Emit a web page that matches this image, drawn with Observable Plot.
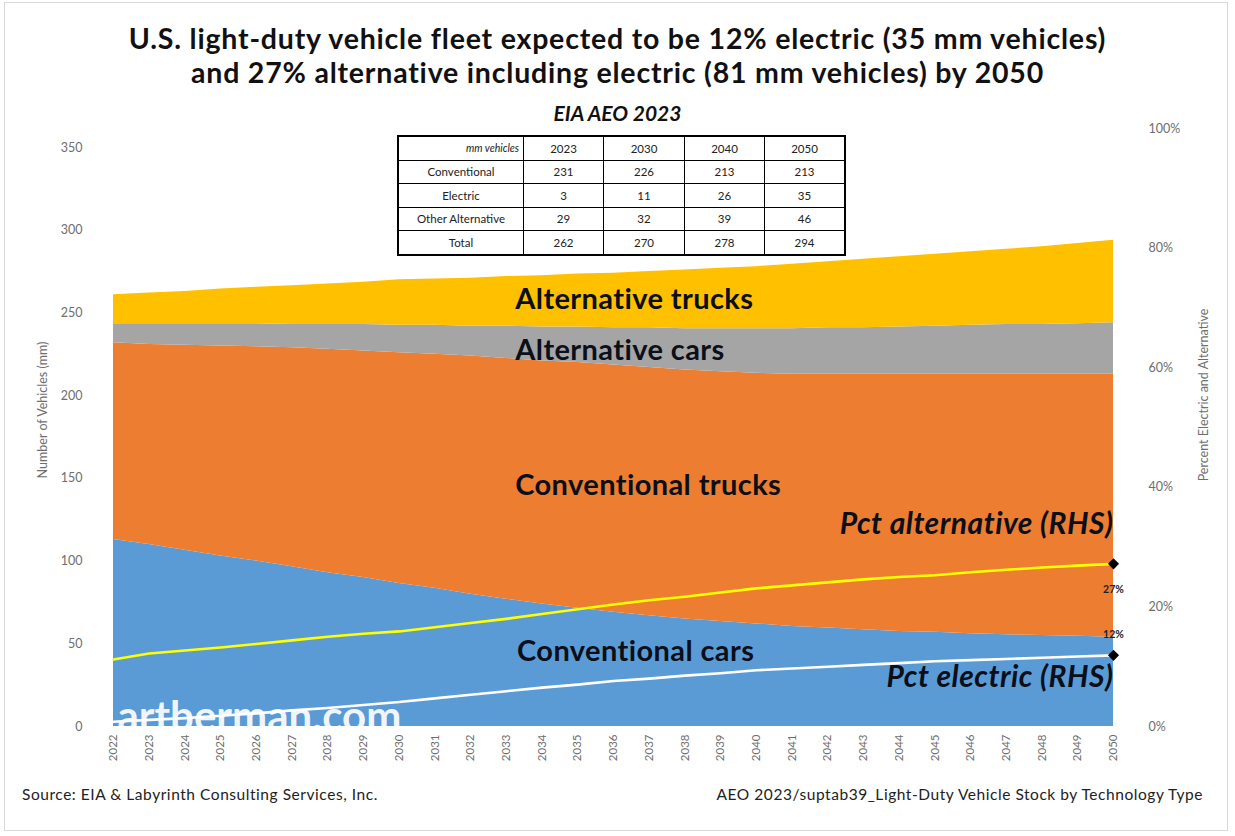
<!DOCTYPE html>
<html><head><meta charset="utf-8">
<script src="https://cdn.jsdelivr.net/npm/d3@7"></script>
<script src="https://cdn.jsdelivr.net/npm/@observablehq/plot@0.6"></script>
<style>
body{margin:0;background:#fff;}
#wrap{position:relative;width:1235px;height:836px;overflow:hidden;font-family:Lato,"Open Sans",sans-serif;background:#fff;}
#frame{position:absolute;left:4px;top:2px;width:1224px;height:829px;border:1px solid #d9d9d9;box-sizing:border-box;pointer-events:none;}
.t{position:absolute;white-space:nowrap;}
#title{left:0;width:1235px;top:21px;text-align:center;font-weight:700;font-size:28.5px;letter-spacing:0.8px;line-height:34px;color:#111;}
#sub{left:0;width:1235px;top:100px;text-align:center;font-weight:700;font-style:italic;font-size:21px;color:#111;}
#tbl{position:absolute;left:397px;top:135px;border-collapse:collapse;border:2.5px solid #000;font-size:11.5px;color:#222;background:#fff;}
#tbl td{border:1px solid #000;height:22.5px;padding:0 4px;text-align:center;}
.rot{transform:translate(-50%,-50%) rotate(-90deg);font-size:12.5px;color:#6e6e6e;}
.src{font-size:15.5px;letter-spacing:0.55px;color:#222;top:785px;}
svg{position:absolute;left:0;top:0;}
</style></head><body><div id="wrap"><div id="frame"></div></div>
<script>
const years = [2022,2023,2024,2025,2026,2027,2028,2029,2030,2031,2032,2033,2034,2035,2036,2037,2038,2039,2040,2041,2042,2043,2044,2045,2046,2047,2048,2049,2050];
const conventionalCars   = [113,110,106.5,103,100,96.5,93,90,86.5,83.5,80,77,74,71.5,69,67,65,63.5,62,60.5,59.5,58.5,57.5,57,56,55.5,55,54.5,54];
const conventionalTrucks = [119,121,124,127,129.5,132.5,135,137,139.5,141.5,144,145.5,147,148.5,149.5,150,150.5,151,151.5,152.5,153.5,154.5,155.5,156,157,157.5,158,158.5,159];
const alternativeCars    = [11.5,12.5,13,13.5,14,14,15,16,16.5,17.5,18,19.5,20.5,21.5,22.5,24,25,26,27,27.5,28,28,28.5,29,29.5,30,30,30.5,31];
const alternativeTrucks  = [17.5,18.5,19.5,21,22,23.5,24.5,25.5,27.5,28,29,30,31,32,33,34,35.5,36.5,37.5,39,40,41.5,42.5,43.5,44.5,45.5,47,48.5,50];
const pctElectric    = [0.8,1.1,1.4,1.8,2.2,2.7,3.1,3.6,4.1,4.7,5.3,5.9,6.5,7.0,7.6,8.0,8.5,8.9,9.4,9.7,10.0,10.3,10.6,10.9,11.1,11.3,11.5,11.7,11.9];
const pctAlternative = [11.2,12.2,12.7,13.2,13.8,14.4,15.0,15.5,15.9,16.6,17.3,18.0,18.8,19.6,20.4,21.1,21.7,22.4,23.1,23.6,24.1,24.6,25.0,25.3,25.8,26.2,26.6,26.9,27.2];

const seriesNames  = ["Conventional cars","Conventional trucks","Alternative cars","Alternative trucks"];
const seriesColors = ["#5B9BD5","#ED7D31","#A5A5A5","#FFC000"];
const leftTicks  = [0,50,100,150,200,250,300,350];
const rightTicks = [0,20,40,60,80,100];

const tableHeader = ["mm vehicles","2023","2030","2040","2050"];
const tableLabels = ["Conventional","Electric","Other Alternative","Total"];
const tableConventional = [231,226,213,213];
const tableElectric     = [3,11,26,35];
const tableOther        = [29,32,39,46];
const tableTotal        = [262,270,278,294];

const areaLabels = ["Alternative trucks","Alternative cars","Conventional trucks","Conventional cars"];
const areaLabelYear  = [2033.25,2033.25,2033.25,2033.3];
const areaLabelValue = [258,227.3,145.7,45.3];
const pctLabels = ["Pct alternative (RHS)","Pct electric (RHS)"];
const pctLabelValue = [122,29.6];
const endLabels = ["27%","12%"];
const endLabelValue = [82.8,55.6];

const Y_TOP = 361.5; // left-axis units that correspond to 100% on the right axis
const k = Y_TOP/100;

const stackData = [];
const seriesValues = [conventionalCars, conventionalTrucks, alternativeCars, alternativeTrucks];
seriesNames.forEach((s,i)=>years.forEach((y,j)=>stackData.push({series:s, year:y, value:seriesValues[i][j]})));
const pctData = years.map((y,j)=>({year:y, elec:pctElectric[j], alt:pctAlternative[j]}));
const last = pctData[pctData.length-1];
const ends = [{year:last.year, v:last.alt*k},{year:last.year, v:last.elec*k}];

const areaAnn = areaLabels.map((l,i)=>({label:l, year:areaLabelYear[i], value:areaLabelValue[i]}));
const pctAnn = pctLabels.map((l,i)=>({label:l, year:2050, value:pctLabelValue[i]}));
const endAnn = endLabels.map((l,i)=>({label:l, year:2050, value:endLabelValue[i]}));

const chart = Plot.plot({
  width:1235, height:836,
  marginTop:128, marginBottom:110, marginLeft:113, marginRight:122,
  x:{type:"linear", domain:[2022,2050]},
  y:{domain:[0,Y_TOP]},
  color:{domain:seriesNames, range:seriesColors},
  style:{fontFamily:"Lato, 'Open Sans', sans-serif", background:"transparent", overflow:"visible"},
  marks:[
    Plot.areaY(stackData,{x:"year", y:"value", z:"series", fill:"series", order:seriesNames}),
    Plot.line(pctData,{x:"year", y:d=>d.alt*k, stroke:"#FFFF00", strokeWidth:2.6}),
    Plot.line(pctData,{x:"year", y:d=>d.elec*k, stroke:"#FFFFFF", strokeWidth:2.6}),
    Plot.dot(ends,{x:"year", y:"v", symbol:"diamond2", r:5, fill:"#000"}),
    Plot.text(areaAnn,{x:"year", y:"value", text:"label", textAnchor:"start", fontSize:29, fontWeight:"bold", fill:"#0b0f1a"}),
    Plot.text(pctAnn,{x:"year", y:"value", text:"label", textAnchor:"end", fontSize:30, fontWeight:"bold", fontStyle:"italic", fill:"#0b0f1a"}),
    Plot.text(endAnn,{x:"year", y:"value", text:"label", textAnchor:"middle", fontSize:10.5, fontWeight:"bold", fill:"#222"}),
    Plot.text(["artberman.com"],{frameAnchor:"bottom-left", dx:4, dy:4, textAnchor:"start", lineAnchor:"bottom", fontSize:42, fontWeight:"bold", fill:"#ffffff", fillOpacity:0.92}),
    Plot.axisX(years,{tickFormat:d=>String(d), tickRotate:-90, tickSize:0, tickPadding:8, label:null, fontSize:11.5, color:"#6e6e6e"}),
    Plot.axisY(leftTicks,{anchor:"left", tickSize:0, tickPadding:31, label:null, fontSize:12.5, color:"#6e6e6e"}),
    Plot.axisY(rightTicks.map(p=>p*k),{anchor:"right", tickSize:0, tickPadding:35, label:null, fontSize:12.5, color:"#6e6e6e", tickFormat:d=>Math.round(d/k)+"%"})
  ]
});
const wrap = document.getElementById("wrap");
wrap.appendChild(chart);
chart.querySelectorAll("text").forEach(t=>{ if(areaLabels.includes(t.textContent)) t.setAttribute("letter-spacing","0.4"); if(pctLabels.includes(t.textContent)) t.setAttribute("letter-spacing","0.5"); });

function addDiv(cls, id, html, style){
  const d=document.createElement("div"); d.className=cls; if(id) d.id=id; d.innerHTML=html; if(style) d.setAttribute("style",style); wrap.appendChild(d); return d;
}
addDiv("t","title","U.S. light-duty vehicle fleet expected to be 12% electric (35 mm vehicles)<br>and 27% alternative including electric (81 mm vehicles) by 2050");
addDiv("t","sub","EIA AEO 2023");
addDiv("t rot",null,"Number of Vehicles (mm)","left:42px;top:410px;");
addDiv("t rot",null,"Percent Electric and Alternative","left:1203px;top:395px;");
addDiv("t src",null,"Source: EIA &amp; Labyrinth Consulting Services, Inc.","left:22px;");
addDiv("t src",null,"AEO 2023/suptab39_Light-Duty Vehicle Stock by Technology Type","right:32px;");

const tbl=document.createElement("table"); tbl.id="tbl";
const widths=[125,80,81,80,80];
const rows=[tableHeader,
  [tableLabels[0],...tableConventional],
  [tableLabels[1],...tableElectric],
  [tableLabels[2],...tableOther],
  [tableLabels[3],...tableTotal]];
rows.forEach((r,ri)=>{
  const tr=document.createElement("tr");
  r.forEach((c,ci)=>{
    const td=document.createElement("td");
    td.textContent=c; td.style.width=(widths[ci]-9)+"px";
    if(ri===0&&ci===0){td.style.fontStyle="italic";td.style.textAlign="right";td.style.fontSize="10.5px";}
    tr.appendChild(td);
  });
  tbl.appendChild(tr);
});
wrap.appendChild(tbl);
</script></body></html>
